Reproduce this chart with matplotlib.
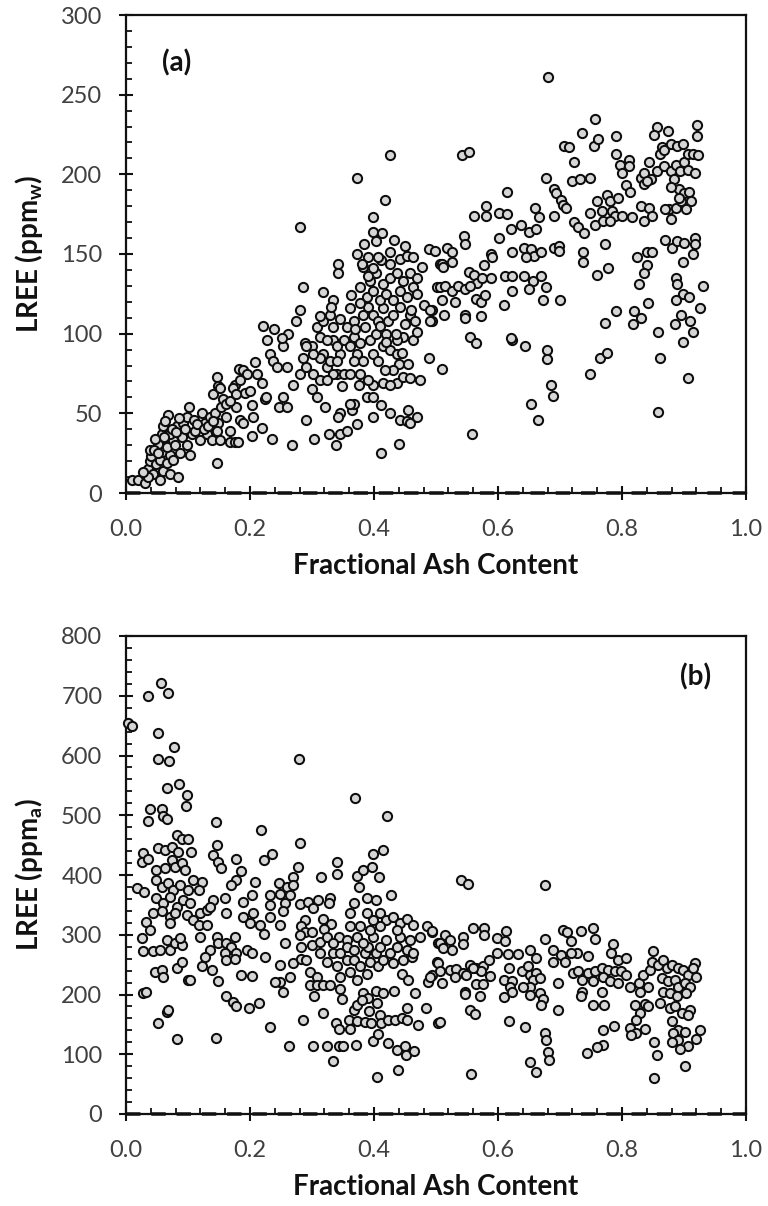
import matplotlib
matplotlib.use("Agg")
import matplotlib.pyplot as plt
from matplotlib.ticker import MultipleLocator, FormatStrFormatter

plt.rcParams['font.family'] = ['Lato', 'DejaVu Sans']
plt.rcParams['mathtext.fontset'] = 'custom'
plt.rcParams['mathtext.rm'] = 'Lato'
plt.rcParams['mathtext.bf'] = 'Lato:bold'
plt.rcParams['mathtext.it'] = 'Lato:italic'

# ---------------- Panel (a): LREE (ppm_w) vs fractional ash ----------------
pts_a_low = [
    (0.009, 8), (0.020, 8), (0.031, 6), (0.031, 12), (0.036, 15), (0.039, 20), (0.044, 12), (0.041, 23),
    (0.038, 27), (0.049, 18), (0.055, 8), (0.055, 21), (0.058, 26), (0.052, 31), (0.060, 14), (0.066, 19),
    (0.071, 12), (0.071, 24), (0.066, 29), (0.076, 21), (0.076, 33), (0.058, 37), (0.060, 42), (0.068, 49),
    (0.071, 37), (0.079, 30), (0.082, 42), (0.084, 10), (0.087, 25), (0.090, 35), (0.092, 44), (0.098, 48),
    (0.098, 30), (0.103, 24), (0.106, 37), (0.101, 54), (0.109, 46), (0.111, 39), (0.119, 33), (0.122, 50),
    (0.127, 44), (0.130, 37), (0.135, 48), (0.138, 33), (0.144, 50), (0.149, 44), (0.146, 39), (0.152, 33),
    (0.146, 19), (0.154, 54), (0.162, 48), (0.168, 32), (0.176, 32), (0.181, 32), (0.168, 39), (0.178, 54),
    (0.184, 46), (0.189, 44), (0.183, 78), (0.189, 77), (0.195, 75), (0.176, 68), (0.184, 71), (0.192, 63),
    (0.200, 64), (0.203, 55), (0.205, 48), (0.203, 36), (0.208, 82), (0.211, 75), (0.219, 69), (0.224, 59),
    (0.219, 41), (0.235, 34), (0.141, 62), (0.146, 73), (0.149, 67), (0.157, 59), (0.162, 56), (0.168, 58),
    (0.173, 66), (0.178, 62), (0.152, 66), (0.221, 105), (0.238, 103), (0.227, 96), (0.232, 87), (0.237, 83),
    (0.243, 79), (0.226, 60), (0.246, 54), (0.047, 34), (0.063, 45), (0.074, 40), (0.085, 47), (0.095, 40),
    (0.114, 43), (0.125, 40), (0.133, 42), (0.140, 45), (0.062, 35), (0.080, 38), (0.045, 27), (0.052, 25),
    (0.035, 10), (0.027, 13),
]

pts_a_mid = [
    (0.254, 60), (0.259, 54), (0.262, 100), (0.254, 92), (0.251, 97), (0.274, 108), (0.259, 79), (0.270, 68),
    (0.267, 30), (0.285, 85), (0.289, 94), (0.281, 75), (0.291, 79), (0.300, 92), (0.302, 75), (0.300, 65),
    (0.308, 60), (0.313, 71), (0.318, 87), (0.324, 79), (0.334, 96), (0.329, 83), (0.340, 75), (0.345, 87),
    (0.348, 67), (0.321, 54), (0.345, 50), (0.342, 48), (0.304, 34), (0.290, 46), (0.328, 37), (0.339, 30),
    (0.345, 37), (0.357, 39), (0.373, 43), (0.364, 52), (0.367, 56), (0.375, 68), (0.388, 60), (0.399, 60),
    (0.399, 48), (0.411, 25), (0.412, 55), (0.425, 50), (0.441, 31), (0.442, 46), (0.453, 45), (0.458, 44),
    (0.469, 48), (0.455, 52), (0.437, 69), (0.447, 73), (0.458, 72), (0.474, 71), (0.415, 69), (0.426, 68),
    (0.399, 68), (0.391, 71), (0.377, 75), (0.361, 56),
    (0.308, 104), (0.313, 98), (0.324, 96), (0.334, 104), (0.340, 92), (0.351, 96), (0.356, 104), (0.361, 92),
    (0.367, 98), (0.372, 87), (0.377, 94), (0.383, 83), (0.386, 104), (0.394, 96), (0.399, 87), (0.404, 100),
    (0.407, 83), (0.415, 92), (0.420, 100), (0.426, 90), (0.437, 87), (0.440, 81), (0.455, 81), (0.463, 96),
    (0.469, 101), (0.447, 98), (0.313, 85), (0.302, 87), (0.291, 92), (0.334, 75), (0.351, 75), (0.361, 75),
    (0.367, 83), (0.340, 83), (0.324, 71),
    (0.383, 112), (0.391, 117), (0.399, 112), (0.407, 108), (0.415, 116), (0.423, 108), (0.431, 112),
    (0.442, 117), (0.450, 106), (0.458, 112), (0.466, 108), (0.388, 123), (0.399, 127), (0.410, 121),
    (0.420, 125), (0.431, 121), (0.442, 127), (0.453, 123), (0.463, 129), (0.377, 129), (0.394, 133),
    (0.404, 138), (0.415, 131), (0.426, 135), (0.437, 138), (0.447, 133), (0.458, 138), (0.469, 135),
    (0.383, 142), (0.399, 141), (0.412, 146), (0.426, 144), (0.442, 147), (0.453, 149), (0.463, 148),
    (0.477, 142), (0.407, 148), (0.391, 148), (0.380, 144), (0.318, 108), (0.329, 112), (0.345, 109),
    (0.367, 108), (0.361, 116), (0.377, 119), (0.369, 103), (0.437, 96), (0.431, 77), (0.418, 77),
    (0.488, 85), (0.493, 108), (0.493, 115), (0.501, 129), (0.506, 144), (0.488, 153), (0.498, 152),
    (0.425, 212), (0.373, 198), (0.417, 184), (0.281, 167), (0.399, 173), (0.398, 164), (0.413, 163),
    (0.433, 159), (0.384, 156), (0.373, 150), (0.425, 151), (0.342, 144), (0.342, 138), (0.285, 129),
    (0.318, 126), (0.334, 121), (0.330, 117), (0.363, 124), (0.280, 115), (0.313, 111),
    (0.404, 158), (0.390, 136), (0.450, 155), (0.470, 125), (0.480, 118), (0.435, 100), (0.410, 105),
    (0.420, 95), (0.445, 88), (0.460, 115),
]

pts_a_high = [
    (0.757, 235), (0.736, 226), (0.755, 218), (0.762, 222), (0.790, 224), (0.857, 230), (0.851, 225),
    (0.874, 227), (0.921, 231), (0.921, 224), (0.707, 218), (0.715, 217), (0.723, 208), (0.720, 196),
    (0.732, 197), (0.748, 198), (0.678, 198), (0.790, 213), (0.797, 206), (0.812, 209), (0.812, 205),
    (0.800, 201), (0.806, 193), (0.813, 189), (0.680, 261),
    (0.830, 198), (0.835, 201), (0.843, 208), (0.846, 197), (0.857, 202), (0.862, 213), (0.865, 217),
    (0.868, 215), (0.879, 219), (0.889, 218), (0.898, 219), (0.868, 205), (0.879, 202), (0.887, 206),
    (0.894, 202), (0.900, 208), (0.906, 213), (0.914, 213), (0.922, 212), (0.906, 203), (0.917, 201),
    (0.835, 194), (0.884, 197), (0.892, 191), (0.900, 188), (0.908, 189), (0.911, 183), (0.879, 192),
    (0.876, 178), (0.887, 179), (0.895, 183), (0.903, 178), (0.879, 172), (0.870, 178), (0.892, 185),
    (0.841, 196),
    (0.691, 191), (0.694, 188), (0.702, 184), (0.705, 181), (0.710, 179), (0.691, 174), (0.748, 176),
    (0.759, 183), (0.767, 177), (0.775, 187), (0.781, 183), (0.784, 177), (0.794, 185), (0.789, 174),
    (0.800, 174), (0.756, 168), (0.770, 171), (0.781, 171), (0.816, 173), (0.830, 180), (0.835, 171),
    (0.843, 179), (0.849, 174), (0.723, 170), (0.729, 167), (0.738, 163), (0.773, 156), (0.737, 151),
    (0.737, 145), (0.759, 137), (0.777, 141), (0.824, 148), (0.841, 151), (0.848, 151), (0.840, 143),
    (0.835, 138), (0.827, 131), (0.870, 159), (0.881, 154), (0.889, 158), (0.900, 157), (0.917, 160),
    (0.917, 156), (0.914, 150), (0.898, 145), (0.887, 135), (0.888, 131), (0.930, 130), (0.925, 116),
    (0.898, 125), (0.908, 123), (0.887, 121), (0.895, 112), (0.886, 106), (0.910, 108), (0.914, 101),
    (0.899, 95), (0.858, 101), (0.862, 85), (0.907, 72), (0.858, 51), (0.791, 114), (0.819, 114),
    (0.818, 106), (0.831, 110), (0.842, 119), (0.773, 107), (0.748, 75), (0.765, 85), (0.775, 88),
    (0.653, 56), (0.664, 46), (0.686, 68), (0.688, 61), (0.679, 90), (0.679, 84), (0.622, 96), (0.644, 92),
    (0.558, 37),
    (0.542, 212), (0.554, 214), (0.561, 174), (0.581, 174), (0.581, 180), (0.601, 176), (0.615, 175),
    (0.615, 189), (0.621, 166), (0.637, 168), (0.650, 164), (0.661, 166), (0.660, 179), (0.666, 173),
    (0.602, 160), (0.622, 151), (0.642, 154), (0.653, 153), (0.658, 149), (0.669, 151), (0.645, 148),
    (0.691, 154), (0.699, 155), (0.698, 152), (0.517, 154), (0.526, 151), (0.509, 144), (0.512, 142),
    (0.526, 145), (0.545, 161), (0.546, 156), (0.588, 150), (0.591, 148), (0.577, 143), (0.507, 129),
    (0.515, 130), (0.526, 127), (0.536, 130), (0.547, 128), (0.553, 139), (0.561, 137), (0.566, 132),
    (0.555, 130), (0.574, 135), (0.588, 135), (0.564, 122), (0.572, 120), (0.579, 124), (0.612, 136),
    (0.623, 136), (0.642, 136), (0.656, 133), (0.670, 136), (0.650, 128), (0.678, 129), (0.623, 127),
    (0.610, 118), (0.673, 121), (0.700, 121), (0.509, 121), (0.531, 120), (0.513, 112), (0.546, 112),
    (0.547, 110), (0.573, 111), (0.490, 115), (0.490, 108), (0.555, 98), (0.564, 94), (0.621, 97),
    (0.509, 78),
]

# ---------------- Panel (b): LREE (ppm_a) vs fractional ash ----------------
pts_b_top = [
    (0.003, 655), (0.009, 650), (0.036, 700), (0.057, 721), (0.068, 705), (0.052, 637), (0.078, 614),
    (0.052, 594), (0.070, 591), (0.279, 594), (0.370, 529),
]

pts_b_left = [
    (0.066, 545), (0.085, 552), (0.099, 534), (0.096, 515), (0.039, 510), (0.058, 510), (0.036, 491),
    (0.060, 499), (0.066, 493), (0.145, 489), (0.421, 499), (0.217, 475), (0.281, 453), (0.082, 467),
    (0.090, 461), (0.100, 460), (0.052, 445), (0.063, 442), (0.074, 447), (0.084, 439), (0.105, 438),
    (0.028, 436), (0.025, 422), (0.036, 427), (0.049, 408), (0.063, 411), (0.074, 425), (0.079, 414),
    (0.090, 420), (0.095, 408), (0.146, 450), (0.140, 433), (0.149, 422), (0.154, 411), (0.178, 427),
    (0.185, 407), (0.223, 425), (0.235, 435), (0.341, 421), (0.340, 402), (0.372, 399), (0.382, 408),
    (0.398, 435), (0.415, 442), (0.396, 414), (0.408, 397), (0.375, 380), (0.315, 396), (0.277, 413),
    (0.269, 396), (0.017, 378), (0.029, 372), (0.049, 392), (0.058, 380), (0.068, 386), (0.076, 375),
    (0.087, 383), (0.100, 375), (0.108, 392), (0.122, 389), (0.117, 375), (0.049, 361), (0.060, 353),
    (0.071, 364), (0.082, 347), (0.092, 358), (0.103, 353), (0.044, 336), (0.058, 339), (0.071, 330),
    (0.079, 336), (0.098, 333), (0.108, 325), (0.033, 322), (0.071, 319), (0.119, 336), (0.130, 341),
    (0.141, 358), (0.135, 347), (0.160, 361), (0.117, 316), (0.119, 297), (0.130, 316), (0.039, 308),
    (0.025, 294), (0.028, 272), (0.044, 272), (0.055, 274), (0.066, 291), (0.071, 274), (0.079, 286),
    (0.090, 283), (0.087, 294), (0.047, 238), (0.058, 241), (0.059, 230), (0.083, 244), (0.090, 255),
    (0.100, 224), (0.104, 224), (0.028, 202), (0.032, 205), (0.066, 171), (0.068, 174), (0.052, 153),
    (0.083, 125), (0.145, 127), (0.146, 297), (0.149, 286), (0.135, 274), (0.127, 263), (0.122, 247),
    (0.138, 241), (0.149, 223), (0.162, 286), (0.176, 297), (0.170, 280), (0.160, 269), (0.178, 269),
    (0.162, 258), (0.176, 260), (0.195, 274), (0.203, 269), (0.224, 263), (0.186, 233), (0.204, 231),
    (0.162, 197), (0.172, 188), (0.178, 181), (0.199, 177), (0.215, 186), (0.232, 145),
    (0.162, 336), (0.189, 355), (0.189, 330), (0.200, 319), (0.205, 336), (0.203, 366), (0.208, 389),
    (0.216, 316), (0.222, 302), (0.178, 392), (0.170, 383), (0.232, 366), (0.232, 350), (0.232, 330),
    (0.248, 369), (0.246, 386), (0.259, 380), (0.270, 383), (0.257, 353), (0.254, 339), (0.248, 316),
    (0.265, 366), (0.257, 287),
]

pts_b_mid = [
    (0.281, 351), (0.294, 355), (0.310, 358), (0.302, 344), (0.329, 361), (0.328, 353), (0.318, 327),
    (0.330, 318), (0.320, 310), (0.289, 325), (0.283, 314), (0.289, 305), (0.281, 300), (0.300, 305),
    (0.361, 336), (0.367, 353), (0.388, 361), (0.404, 358), (0.428, 366), (0.248, 249), (0.248, 221),
    (0.240, 221), (0.254, 205), (0.265, 230), (0.270, 252), (0.283, 260), (0.291, 258), (0.283, 280),
    (0.300, 283), (0.313, 288), (0.324, 297), (0.343, 297), (0.356, 291), (0.297, 238), (0.308, 230),
    (0.297, 216), (0.308, 216), (0.318, 216), (0.329, 216), (0.303, 197), (0.313, 269), (0.324, 255),
    (0.334, 269), (0.340, 247), (0.345, 230), (0.345, 210), (0.348, 192), (0.356, 258), (0.361, 238),
    (0.367, 258), (0.372, 224), (0.377, 247), (0.386, 269), (0.388, 235), (0.391, 280), (0.394, 255),
    (0.399, 297), (0.404, 269), (0.407, 247), (0.410, 280), (0.415, 258), (0.420, 291), (0.426, 269),
    (0.431, 252), (0.437, 280), (0.442, 297), (0.447, 258), (0.453, 274), (0.458, 291), (0.461, 263),
    (0.445, 235), (0.455, 224), (0.466, 202), (0.383, 202), (0.391, 194), (0.404, 206), (0.415, 202),
    (0.432, 206), (0.367, 174), (0.373, 182), (0.380, 191), (0.392, 173), (0.405, 186), (0.360, 157),
    (0.373, 156), (0.385, 154), (0.395, 152), (0.410, 166), (0.412, 153), (0.423, 158), (0.434, 157),
    (0.445, 160), (0.454, 157), (0.453, 177), (0.471, 149), (0.484, 177), (0.504, 153), (0.339, 153),
    (0.343, 142), (0.361, 143), (0.317, 169), (0.285, 158), (0.263, 114), (0.301, 114), (0.324, 114),
    (0.343, 113), (0.350, 113), (0.371, 115), (0.398, 123), (0.407, 134), (0.423, 118), (0.437, 107),
    (0.450, 113), (0.452, 99), (0.465, 106), (0.334, 89), (0.405, 62), (0.438, 74),
    (0.410, 336), (0.420, 325), (0.431, 330), (0.442, 319), (0.453, 327), (0.463, 316), (0.474, 297),
    (0.485, 314), (0.493, 305), (0.504, 286), (0.501, 255), (0.493, 233), (0.487, 221), (0.463, 269),
    (0.437, 308), (0.410, 314), (0.394, 308), (0.399, 325), (0.388, 336), (0.377, 314), (0.361, 314),
    (0.372, 297), (0.383, 286), (0.356, 280), (0.345, 269), (0.334, 286), (0.367, 274),
]

pts_b_right = [
    (0.541, 391), (0.551, 385), (0.675, 384), (0.493, 307), (0.514, 300), (0.522, 292), (0.506, 286),
    (0.511, 278), (0.525, 275), (0.544, 296), (0.544, 285), (0.560, 311), (0.578, 312), (0.578, 300),
    (0.598, 294), (0.613, 307), (0.611, 289), (0.598, 269), (0.616, 267), (0.632, 267), (0.651, 275),
    (0.662, 261), (0.675, 293), (0.689, 275), (0.705, 308), (0.711, 304), (0.718, 289), (0.734, 307),
    (0.753, 311), (0.756, 293), (0.727, 269), (0.745, 265), (0.702, 266), (0.708, 254), (0.689, 255),
    (0.786, 285), (0.783, 270), (0.794, 258), (0.807, 261), (0.490, 230), (0.503, 252), (0.506, 239),
    (0.522, 241), (0.533, 243), (0.544, 236), (0.555, 250), (0.565, 244), (0.576, 248), (0.586, 257),
    (0.587, 231), (0.573, 239), (0.560, 244), (0.549, 233), (0.530, 230), (0.510, 219), (0.546, 205),
    (0.546, 201), (0.564, 218), (0.576, 218), (0.571, 197), (0.555, 174), (0.563, 168), (0.506, 154),
    (0.618, 244), (0.609, 224), (0.622, 222), (0.619, 213), (0.609, 195), (0.622, 205), (0.638, 240),
    (0.649, 248), (0.651, 233), (0.662, 236), (0.657, 225), (0.651, 213), (0.667, 227), (0.641, 213),
    (0.651, 200), (0.667, 203), (0.673, 192), (0.670, 183), (0.696, 174), (0.696, 220), (0.618, 156),
    (0.643, 145), (0.675, 135), (0.677, 124), (0.680, 103), (0.682, 91), (0.651, 87), (0.662, 70),
    (0.557, 67), (0.721, 236), (0.735, 225), (0.735, 205), (0.734, 198), (0.745, 236), (0.756, 239),
    (0.767, 244), (0.778, 241), (0.788, 239), (0.799, 240), (0.807, 233), (0.753, 222), (0.770, 230),
    (0.780, 222), (0.794, 219), (0.767, 205), (0.753, 182), (0.771, 182), (0.813, 213), (0.827, 219),
    (0.834, 233), (0.829, 205), (0.842, 213), (0.845, 241), (0.850, 272), (0.848, 255), (0.858, 250),
    (0.866, 258), (0.872, 244), (0.880, 250), (0.891, 244), (0.899, 241), (0.907, 233), (0.917, 252),
    (0.920, 230), (0.915, 244), (0.864, 227), (0.874, 222), (0.885, 225), (0.891, 213), (0.901, 219),
    (0.909, 213), (0.866, 205), (0.877, 202), (0.888, 197), (0.904, 202), (0.861, 186), (0.877, 177),
    (0.885, 180), (0.896, 169), (0.909, 174), (0.907, 166), (0.821, 182), (0.837, 184), (0.829, 169),
    (0.842, 180), (0.823, 158), (0.813, 144), (0.823, 135), (0.837, 143), (0.814, 132), (0.880, 155),
    (0.891, 141), (0.883, 135), (0.901, 138), (0.891, 124), (0.880, 121), (0.907, 113), (0.893, 109),
    (0.919, 126), (0.925, 141), (0.901, 80), (0.851, 120), (0.856, 99), (0.852, 61), (0.770, 140),
    (0.787, 148), (0.770, 116), (0.759, 112), (0.743, 102), (0.718, 269), (0.729, 239),
]

ash_a = [p[0] for seg in (pts_a_low, pts_a_mid, pts_a_high) for p in seg]
lree_a = [p[1] for seg in (pts_a_low, pts_a_mid, pts_a_high) for p in seg]
ash_b = [p[0] for seg in (pts_b_top, pts_b_left, pts_b_mid, pts_b_right) for p in seg]
lree_b = [p[1] for seg in (pts_b_top, pts_b_left, pts_b_mid, pts_b_right) for p in seg]

x_ticks = [0.0, 0.2, 0.4, 0.6, 0.8, 1.0]

W, H = 768, 1206
fig = plt.figure(figsize=(W / 100, H / 100), dpi=100)
ax_a = fig.add_axes([126 / W, 1 - 493 / H, 620 / W, 478 / H])
ax_b = fig.add_axes([126 / W, 1 - 1114 / H, 620 / W, 478 / H])

tick_color = '#404040'
label_kw = dict(fontsize=20, fontweight='bold', color='#111111')


def style(ax, ymax, ymaj, ymin, ylabel):
    ax.set_xlim(0, 1)
    ax.set_ylim(0, ymax)
    ax.set_xticks(x_ticks)
    ax.xaxis.set_major_formatter(FormatStrFormatter('%.1f'))
    ax.xaxis.set_minor_locator(MultipleLocator(0.04))
    ax.yaxis.set_major_locator(MultipleLocator(ymaj))
    ax.yaxis.set_minor_locator(MultipleLocator(ymin))
    for s in ax.spines.values():
        s.set_linewidth(1.6)
        s.set_color('#111111')
    ax.tick_params(which='major', direction='inout', length=10, width=1.5,
                   labelsize=17, labelcolor=tick_color, color='#111111',
                   top=False, right=False)
    ax.tick_params(which='minor', direction='in', length=4.5, width=1.3,
                   color='#111111', top=False, right=False)
    ax.tick_params(axis='x', which='major', pad=14)
    ax.tick_params(axis='y', which='major', pad=12)
    ax.axhline(0, color='#222222', lw=2.6, ls=(0, (4, 3)), zorder=1.5, clip_on=False)
    ax.set_xlabel('Fractional Ash Content', **label_kw)
    ax.set_ylabel(ylabel, **label_kw)
    ax.xaxis.set_label_coords(0.5, -0.125)
    ax.yaxis.set_label_coords(-0.13, 0.5)


marker_kw = dict(s=44, facecolor='#d6d6d6', edgecolor='#0d0d0d', linewidths=1.45, zorder=3, clip_on=False)

ax_a.scatter(ash_a, lree_a, **marker_kw)
style(ax_a, 300, 50, 10, r'LREE (ppm$_{\mathbf{w}}$)')
ax_a.text(0.081, 270, '(a)', fontsize=20, fontweight='bold', ha='center', va='center', color='#111111')

ax_b.scatter(ash_b, lree_b, **marker_kw)
style(ax_b, 800, 100, 20, r'LREE (ppm$_{\mathbf{a}}$)')
ax_b.text(0.918, 731, '(b)', fontsize=20, fontweight='bold', ha='center', va='center', color='#111111')

fig.savefig('out.png', dpi=100)
